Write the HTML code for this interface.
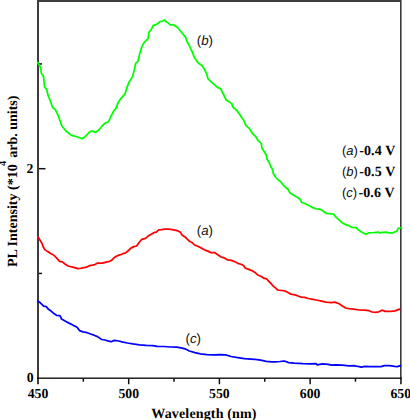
<!DOCTYPE html>
<html><head><meta charset="utf-8"><style>
html,body{margin:0;padding:0;background:#fff;}
svg{display:block;}
text{text-rendering:geometricPrecision;}
.t{font-family:"Liberation Serif",serif;font-weight:bold;fill:#000;}
.s{font-family:"Liberation Sans",sans-serif;fill:#111;}
</style></head><body>
<svg width="410" height="420" viewBox="0 0 410 420">
<rect width="410" height="420" fill="#fff"/>
<g stroke="#111" stroke-width="1.5">
<line x1="38.00" y1="378.2" x2="38.00" y2="384.2"/>
<line x1="83.35" y1="378.2" x2="83.35" y2="381.7"/>
<line x1="128.70" y1="378.2" x2="128.70" y2="384.2"/>
<line x1="174.05" y1="378.2" x2="174.05" y2="381.7"/>
<line x1="219.40" y1="378.2" x2="219.40" y2="384.2"/>
<line x1="264.75" y1="378.2" x2="264.75" y2="381.7"/>
<line x1="310.10" y1="378.2" x2="310.10" y2="384.2"/>
<line x1="355.45" y1="378.2" x2="355.45" y2="381.7"/>
<line x1="400.80" y1="378.2" x2="400.80" y2="384.2"/>
<line x1="38" y1="273.45" x2="42" y2="273.45"/>
<line x1="38" y1="168.70" x2="45.5" y2="168.70"/>
<line x1="38" y1="63.95" x2="42" y2="63.95"/>
</g>
<rect x="37" y="0" width="2" height="384" fill="#3c3c3c"/>
<rect x="37" y="0" width="364" height="2" fill="#3c3c3c"/>
<rect x="400" y="0" width="1.6" height="384" fill="#3a3a3a"/>
<rect x="37" y="377.5" width="365" height="1.4" fill="#111"/>
<g fill="none" stroke-width="1.75" stroke-linejoin="round" stroke-linecap="round">
<polyline stroke="#00ff00" points="37.7,62.5 40.3,66.8 41.4,73.2 43.5,76.4 44.6,87.1 46.7,89.3 47.8,94.6 49.9,100 52.7,107.5 55.3,109.6 57.4,113.9 59.6,119.3 61.7,125.7 66,131 71.4,135.4 75.6,136.4 78.9,137.5 82,138.6 84.2,137.5 87.4,134.3 90,131.7 92.4,131 95.2,132.4 98.3,130.5 101.9,126.2 104.8,123.3 108.6,121.7 111,116.2 113.8,111 116.2,107.9 118.1,102.4 121,98.3 125.2,93.6 126.9,87.6 129.3,81.7 132.4,76.9 134,71 135.7,63.4 137.9,61.2 140.1,52.4 141.6,47.3 143.8,42.9 146,40.7 148.2,38.5 148.9,32 151.1,29.8 153.3,25.4 156.2,24.6 158.4,23.2 159.9,21.7 162.8,21 164.3,20 166.5,22 168.7,23.2 170.1,24.9 173,24.9 176,26.1 178.9,29 181.8,32.7 185.5,37.1 187,41.5 189.1,45.1 190.6,48.3 192.4,52.4 194.8,58.3 198.3,63.1 201.9,65.5 204.3,69 206.7,73.8 207.9,78.6 211.4,82.1 215,85.2 217.4,87.4 220.5,88.6 223.3,94 226.2,100 229.3,101.9 231.7,103.6 232.9,107.1 236.4,110 238.8,113.1 241.2,116.7 243.6,120.2 246,125.7 249.5,128.6 252.4,133.3 255.8,136.7 258.3,140.8 261.3,143.3 262,148.3 264.2,151.7 266.3,155 267,159.2 269.2,162.5 270.8,166.7 272.5,169.2 273.3,173.3 275.8,177.5 278.3,180 280.8,181.7 282.5,184.2 285,187 288,189.2 290,193 293.3,195 297.5,197.5 300,199.2 301.7,202.5 305,203.5 308.8,205.5 312.4,207.4 316.1,208.9 319.8,209.2 322.7,210.8 326,213.3 329.3,213.6 333.7,214 335.9,217.2 338.8,219.6 341.7,222.5 345.4,224.6 349,225.7 352,227.5 356,227.7 358.7,230.1 360.7,231.5 363.4,233.1 366.1,234.2 368.8,232.8 374.2,232.5 378.2,232.1 380.2,232.8 382.2,232.3 386.6,232.2 388,232.9 392.8,232.9 395.7,231.5 397.2,230.7 397.9,228.6 399.4,228.2 401,227.5"/>
<polyline stroke="#ff0000" points="37.8,236.7 39.7,239.6 41.9,243.3 43.3,247 44.8,249.6 47.7,251.6 50.6,253.5 53.6,255 56.5,257.9 59.4,261.3 62.3,261.9 65.3,264.2 68.2,266 72.6,267.1 75.5,267.9 77.7,268.6 79.9,268.5 82.8,267.9 86.5,267.1 89.4,265.7 92.3,265.2 95,264.6 97.2,263.2 102.3,263.2 106,262.1 109.6,261.3 111.8,260.2 114,257.8 117,255.9 120.6,254.7 122.8,253.7 125.7,252.9 127.9,251 130.9,248.1 133.8,246.6 136.7,246 138.9,242.7 141.8,239.3 145.5,238.3 148.4,235.8 151.3,234.2 154.3,232.4 155.9,232.3 158.8,229.9 161.7,229.6 164.6,229.2 169,229.2 172,229.6 174.9,230.2 177.8,230.8 180.7,232.6 182.2,235.2 185.1,237 187.3,239.1 189.5,241.3 192.4,242.8 194.6,245 198.3,246.5 201.2,247.9 204.9,250.1 207.9,251.1 210.9,252.6 214.5,252.6 217.4,254.5 221.1,257 224.8,258.2 227.7,259.9 231.3,260.4 235,261.8 237.9,263.3 241.6,264.5 243.8,265.8 245.2,268.1 248.2,269.1 251.8,270.6 255.5,272.8 257.7,275 261.3,276.5 264.3,278.4 266.6,278.8 268.8,281.4 271,283.5 273.2,286.1 275.4,287.9 277.9,290.2 282,290.5 285.6,291.2 288.5,292.7 290.7,294.1 295.1,294.9 298.8,296.3 301.7,297.1 304.6,297.4 308.3,298.5 312.7,299.3 316.3,300 320.5,300.8 326,302.1 331.5,302.6 334.8,302.1 339.1,303.7 342.4,305.9 345.7,308 349,308.7 353.4,309.1 358.9,310 364.4,310.2 368.8,310.7 372.1,312 375.4,312.4 378.7,311.8 382,310.2 385.2,311.3 390.7,311.3 395.1,310.9 399.5,309.1"/>
<polyline stroke="#0000ff" points="37.7,301.1 40.3,302.8 43.7,306.2 46.2,306.7 48.8,309.6 51.4,311.3 53.9,313.6 56.5,315.3 59.9,315.6 61.6,319 64.2,320.4 67.6,322.4 71,324.1 74.4,325.9 77,327.2 79.5,330.6 83,331.8 87.2,332.7 90.6,334 94,335.2 97.5,336.6 101.7,339.5 105.1,340 107.7,340.8 111,341.7 114.3,340.4 118.7,341 122,341.9 127.4,343 132.9,343.9 139.5,344.8 146.1,345.4 152.7,345.6 157.1,346.3 163.7,346.5 170.2,347 176.8,347.2 182.3,348.1 185,348.8 189.4,351 194.9,352.7 200.4,353.8 207,354.7 213.5,354.9 220.1,354.7 225.6,354.9 231.1,356.5 237.7,357.6 244.3,358.7 250.8,359.1 255.2,359.3 260.7,360.2 266.2,361.3 271.7,361.9 275.5,361.9 279.9,361.5 284.3,361 288.7,362.6 294.1,363.2 302.9,363.7 309.5,363.9 316.1,363.7 317.2,364.8 322.7,363.9 328.2,364.3 331.5,365.2 335.8,364.8 342.4,365.2 349,365.9 353.7,365.7 356.2,366.2 358,366.4 361.3,367.1 364.8,366.4 369.9,366.7 375.9,366.7 381,366.7 384.4,365.7 389.5,365.7 394.6,366.4 397.2,366.6 400.6,365.7"/>
</g>
<g class="t" font-size="13.75">
<text x="38.00" y="398" text-anchor="middle">450</text>
<text x="128.70" y="398" text-anchor="middle">500</text>
<text x="219.40" y="398" text-anchor="middle">550</text>
<text x="310.10" y="398" text-anchor="middle">600</text>
<text x="400.80" y="398" text-anchor="middle">650</text>
<text x="33.6" y="382.4" text-anchor="end">0</text>
<text x="33.4" y="172.6" text-anchor="end">2</text>
</g>
<text class="t" font-size="14" letter-spacing="0.15" x="151.3" y="417.6">Wavelength (nm)</text>
<g class="t" font-size="14" transform="translate(16.8,267) rotate(-90)"><text x="0" y="0">PL Intensity (*10</text><text x="101" y="-10.7" font-size="10.5">4</text><text x="109.2" y="0">arb. units)</text></g>
<g font-size="13">
<text x="342" y="155"><tspan class="s">(</tspan><tspan class="s" font-style="italic">a</tspan><tspan class="s">)</tspan><tspan class="t" dx="1.3" font-size="14" letter-spacing="0.1">-0.4 V</tspan></text>
<text x="342" y="176"><tspan class="s">(</tspan><tspan class="s" font-style="italic">b</tspan><tspan class="s">)</tspan><tspan class="t" dx="1.3" font-size="14" letter-spacing="0.1">-0.5 V</tspan></text>
<text x="342" y="197"><tspan class="s">(</tspan><tspan class="s" font-style="italic">c</tspan><tspan class="s">)</tspan><tspan class="t" dx="1.3" font-size="14" letter-spacing="0.1">-0.6 V</tspan></text>
<text class="s" x="196.7" y="44.5" font-size="13.3"><tspan>(</tspan><tspan font-style="italic">b</tspan><tspan>)</tspan></text>
<text class="s" x="196.7" y="235" font-size="13.3"><tspan>(</tspan><tspan font-style="italic">a</tspan><tspan>)</tspan></text>
<text class="s" x="185.5" y="343.2" font-size="13.3"><tspan>(</tspan><tspan font-style="italic">c</tspan><tspan>)</tspan></text>
</g>
</svg>
</body></html>
